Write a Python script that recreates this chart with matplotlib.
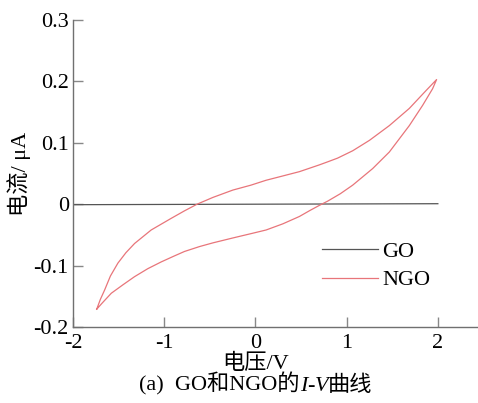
import matplotlib
matplotlib.use("Agg")
import matplotlib.pyplot as plt
from matplotlib.offsetbox import TextArea, HPacker, AnchoredOffsetbox

# ============================================================
# Data (V in volts, I in uA)
# ============================================================
# NGO: forward sweep (-1.74 V -> 2 V), lower branch
ngo_fwd_v = [-1.74, -1.68, -1.58, -1.45, -1.325, -1.18, -1.033, -0.9, -0.778, -0.613,
             -0.467, -0.248, -0.05, 0.117, 0.3, 0.482, 0.6, 0.70, 0.792, 0.93, 1.066,
             1.285, 1.468, 1.687, 1.833, 1.942, 1.986]
ngo_fwd_i = [-0.171, -0.161, -0.145, -0.131, -0.118, -0.105, -0.094, -0.085, -0.077,
             -0.069, -0.063, -0.055, -0.048, -0.042, -0.032, -0.020, -0.010, -0.002,
             0.005, 0.017, 0.031, 0.058, 0.085, 0.128, 0.161, 0.188, 0.203]
# NGO: reverse sweep (2 V -> -1.74 V), upper branch
ngo_rev_v = [1.986, 1.87, 1.687, 1.468, 1.25, 1.066, 0.9, 0.792, 0.70,
             0.482, 0.3, 0.117, -0.05, -0.248, -0.467, -0.64, -0.78, -0.923, -1.143,
             -1.325, -1.42, -1.508, -1.59, -1.654, -1.70, -1.74]
ngo_rev_i = [0.203, 0.185, 0.156, 0.128, 0.104, 0.087, 0.075, 0.069,
             0.064, 0.053, 0.046, 0.039, 0.031, 0.023, 0.011, 0.0, -0.011, -0.023,
             -0.042, -0.064, -0.079, -0.096, -0.117, -0.140, -0.155, -0.171]
# GO: essentially flat
go_v = [-2.0, 0.0, 2.0]
go_i = [-0.0008, 0.0, 0.0008]

xticks = [-2, -1, 0, 1, 2]
yticks = [-0.2, -0.1, 0, 0.1, 0.2, 0.3]
ytick_labels = ["-0.2", "-0.1", "0", "0.1", "0.2", "0.3"]

# ============================================================
# Style
# ============================================================
plt.rcParams["font.family"] = ["Liberation Serif", "Noto Sans CJK SC"]
plt.rcParams["font.size"] = 16
plt.rcParams["axes.unicode_minus"] = False

fig = plt.figure(figsize=(4.78, 4.03), dpi=100)
ax = fig.add_axes([73 / 478, 1 - 327 / 403, 1 - 73 / 478, (327 - 20) / 403])

ngo_v = ngo_fwd_v + ngo_rev_v
ngo_i = ngo_fwd_i + ngo_rev_i
ax.plot(go_v, go_i, color="#555555", lw=0.9, label="GO")
ax.plot(ngo_v, ngo_i, color="#e8757a", lw=0.9, label="NGO")

ax.set_xlim(-2, 2.44)
ax.set_ylim(-0.2, 0.3)
ax.set_xticks(xticks)
ax.set_xticklabels([str(t) for t in xticks])
ax.set_yticks(yticks)
ax.set_yticklabels(ytick_labels)
ax.tick_params(direction="in", length=7, width=1, color="#888888")
ax.tick_params(axis="x", pad=5)
ax.tick_params(axis="y", pad=3)

for side in ("top", "right"):
    ax.spines[side].set_visible(False)
for side in ("left", "bottom"):
    ax.spines[side].set_color("#707070")
    ax.spines[side].set_linewidth(1)

ax.set_ylabel("电流/ μA", labelpad=2)

ax.legend(loc="center left", frameon=False, borderpad=0, borderaxespad=0,
          handlelength=2.5, handletextpad=0.2, labelspacing=0.35,
          bbox_to_anchor=(322 / 478, 1 - 266 / 403), bbox_transform=fig.transFigure)

# x label and caption
fig.text(256 / 478, 1 - 369 / 403, "电压/V", ha="center", va="baseline")
pieces = [("(a)  GO和NGO的", "normal"), ("I", "italic"), ("-", "normal"),
          ("V", "italic"), ("曲线", "normal")]
boxes = [TextArea(s, textprops=dict(fontstyle=st, fontsize=16)) for s, st in pieces]
row = HPacker(children=boxes, align="baseline", pad=0, sep=0)
cap = AnchoredOffsetbox(loc="center", child=row, pad=0, borderpad=0, frameon=False,
                        bbox_to_anchor=(256 / 478, 1 - 384 / 403),
                        bbox_transform=fig.transFigure)
fig.add_artist(cap)

plt.savefig("out.png", dpi=100)
